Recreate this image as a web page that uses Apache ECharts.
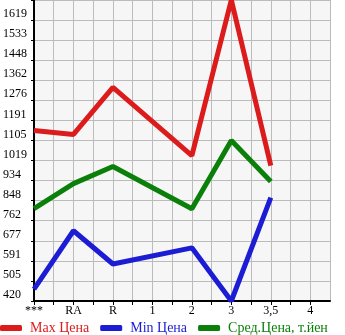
<!DOCTYPE html>
<html><head><meta charset="utf-8">
<script src="https://cdn.jsdelivr.net/npm/echarts@6/dist/echarts.min.js"></script>
<style>html,body{margin:0;padding:0;background:#fff}#c{width:345px;height:335px}</style>
</head><body><div id="c"></div>
<script>
const categories = ['***','RA','R','1','2','3','3,5','4'];
const maxPrice = [1148, 1131, 1332, null, 1041, 1705, 998, null];
const minPrice = [471, 720, 578, null, 647, 420, 861, null];
const avgPrice = [814, 921, 994, null, 814, 1105, 930, null];
const yTickLabels = ['420','505','591','677','762','848','934','1019','1105','1191','1276','1362','1448','1533','1619',''];
const seriesNames = ['Max Цена','Min Цена','Сред.Цена, т.йен'];
const colors = ['#dc1c1c','#1c1cd4','#0a7f0a'];

const yMin = 420, yMax = 1705, yStep = (yMax - yMin) / 15;
const toData = arr => arr.map((v, i) => [i, v == null ? '-' : v]);
const font = '"Liberation Serif", "DejaVu Serif", serif';

const chart = echarts.init(document.getElementById('c'), null, {renderer: 'canvas'});
chart.setOption({
  animation: false,
  grid: {left: 31, right: 15, top: 0, bottom: 34, show: true, backgroundColor: '#f6f6f6', borderWidth: 0},
  xAxis: {
    type: 'value', min: 0, max: 7.5, interval: 0.5,
    axisLine: {show: true, onZero: false, lineStyle: {color: '#000', width: 2}},
    axisTick: {show: true, length: 4, lineStyle: {color: '#000'}},
    splitLine: {show: true, lineStyle: {color: '#bbbbbb', width: 1}},
    axisLabel: {
      color: '#000', fontFamily: font, fontSize: 12, margin: 4, showMaxLabel: false,
      formatter: v => Number.isInteger(v) ? (categories[v] || '') : ''
    }
  },
  yAxis: {
    type: 'value', min: yMin, max: yMax, interval: yStep,
    axisLine: {show: true, onZero: false, lineStyle: {color: '#000', width: 2}},
    axisTick: {show: true, length: 3, lineStyle: {color: '#000'}},
    splitLine: {show: true, lineStyle: {color: '#bbbbbb', width: 1}},
    axisLabel: {
      color: '#000', fontFamily: font, fontSize: 12, margin: 31, align: 'left', verticalAlign: 'bottom',
      formatter: v => yTickLabels[Math.round((v - yMin) / yStep)] || ''
    }
  },
  legend: {
    left: 0, bottom: 0, padding: 0, itemWidth: 22, itemHeight: 6, itemGap: 11, icon: 'roundRect',
    textStyle: {fontFamily: font, fontSize: 14, padding: [0, 0, 0, 3]},
    data: seriesNames.map((n, i) => ({name: n, textStyle: {color: colors[i]}}))
  },
  series: [maxPrice, minPrice, avgPrice].map((arr, i) => ({
    name: seriesNames[i], type: 'line', data: toData(arr), connectNulls: true,
    showSymbol: false, symbol: 'none', color: colors[i],
    lineStyle: {width: 5, color: colors[i]}
  }))
});
</script></body></html>
